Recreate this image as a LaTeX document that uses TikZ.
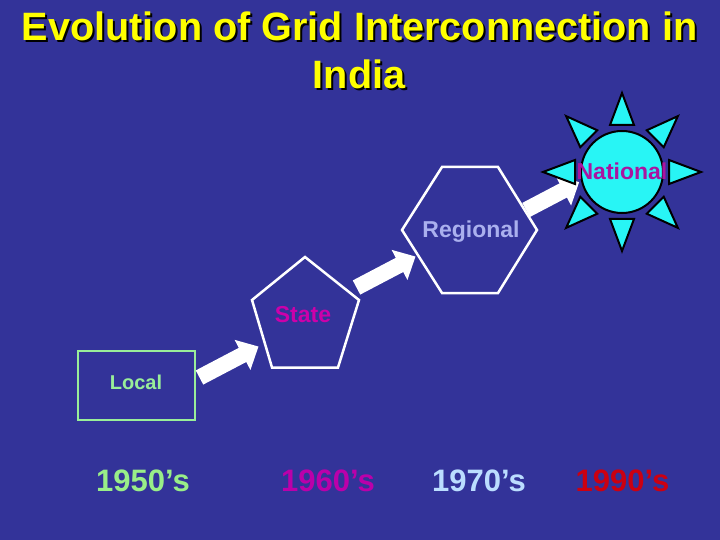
\documentclass[tikz,border=0pt]{standalone}
\usepackage{fontspec}
\setmainfont{Liberation Sans}
\usetikzlibrary{calc}
\definecolor{bgblue}{RGB}{51,51,153}
\definecolor{titleyellow}{RGB}{255,255,0}
\definecolor{localgreen}{RGB}{153,238,153}
\definecolor{statemag}{RGB}{204,0,170}
\definecolor{regionlav}{RGB}{170,176,238}
\definecolor{natmag}{RGB}{170,20,160}
\definecolor{suncyan}{RGB}{40,245,245}
\definecolor{y50}{RGB}{153,238,136}
\definecolor{y60}{RGB}{187,0,170}
\definecolor{y70}{RGB}{187,221,255}
\definecolor{y90}{RGB}{204,0,17}
\newcommand{\shadowtxt}[1]{\makebox[0pt][l]{\hspace{2pt}\raisebox{-2pt}{\color{black}#1}}#1}
\begin{document}
\begin{tikzpicture}[x=1pt,y=-1pt,
  titletext/.style={font=\fontsize{39.6}{46}\selectfont\bfseries, anchor=base, inner sep=0, text=titleyellow},
  shapeline/.style={draw=white, line width=2.5pt, line join=miter},
  lbl/.style={font=\fontsize{23}{26}\selectfont\bfseries, anchor=base, inner sep=0},
  yearlbl/.style={font=\fontsize{31}{36}\selectfont\bfseries, anchor=base, inner sep=0},
  sunpart/.style={draw=black, fill=suncyan, line width=2pt, line join=miter},
  pics/blockarrow/.style={code={
    \fill[white] (0,-8) -- (#1-18,-8) -- (#1-18,-17) -- (#1,0) -- (#1-18,17) -- (#1-18,8) -- (0,8) -- cycle;}}
]
\useasboundingbox (0,0) rectangle (720,540);
\fill[bgblue] (0,0) rectangle (720,540);

% title
\node[titletext] (t1) at (359.5,41) {\shadowtxt{Evolution of Grid Interconnection in}};
\node[titletext] (t2) at (359,89) {\shadowtxt{India}};

% Local
\node[draw=localgreen, line width=2pt, minimum width=117pt, minimum height=69pt, inner sep=0] (local) at (136.5,385.5) {};
\node[font=\fontsize{20}{24}\selectfont\bfseries, text=localgreen, anchor=base, inner sep=0] (localtxt) at (136,389) {Local};

% State pentagon
\coordinate (p1) at (305,257);
\coordinate (p2) at (359,300);
\coordinate (p3) at (338,367.5);
\coordinate (p4) at (272,367.5);
\coordinate (p5) at (252,300);
\draw[shapeline] (p1) -- (p2) -- (p3) -- (p4) -- (p5) -- cycle;
\node[lbl, text=statemag] (state) at (303,322) {State};

% Regional hexagon
\coordinate (h1) at (442,167);
\coordinate (h2) at (498,167);
\coordinate (h3) at (537,230);
\coordinate (h4) at (498,293);
\coordinate (h5) at (442,293);
\coordinate (h6) at (402,230);
\draw[shapeline] (h1) -- (h2) -- (h3) -- (h4) -- (h5) -- (h6) -- cycle;
\node[lbl, text=regionlav] (regional) at (471,237.5) {Regional};

% arrows
\coordinate (a1) at (199.5,377.5);
\coordinate (a2) at (356.5,287.5);
\coordinate (a3) at (526,210);
\pic[rotate=27.7] at (a1) {blockarrow=66.6};
\pic[rotate=27.7] at (a2) {blockarrow=66.6};
\pic[rotate=27.7] at (a3) {blockarrow=60};

% sun
\coordinate (sun) at (622,172);
\foreach \a in {0,45,...,315}{
  \draw[sunpart] ($(sun)+(\a:79)$) -- ($(sun)+(\a:47)+(\a+90:12)$) -- ($(sun)+(\a:47)+(\a-90:12)$) -- cycle;
}
\draw[sunpart] (sun) circle[radius=41];
\node[lbl, text=natmag] (national) at (622,180) {National};

% years
\node[yearlbl, text=y50] (y1950) at (143,491) {1950’s};
\node[yearlbl, text=y60] (y1960) at (328,491) {1960’s};
\node[yearlbl, text=y70] (y1970) at (479,491) {1970’s};
\node[yearlbl, text=y90] (y1990) at (622.5,491) {1990’s};
\end{tikzpicture}
\end{document}
